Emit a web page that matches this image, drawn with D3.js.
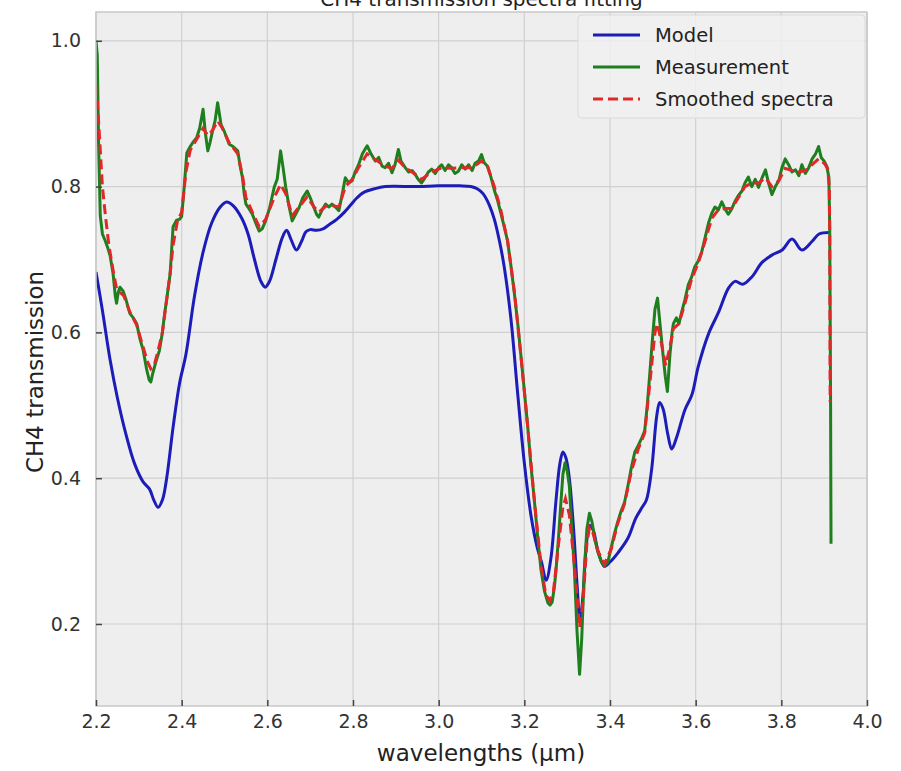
<!DOCTYPE html>
<html><head><meta charset="utf-8">
<script src="https://cdn.jsdelivr.net/npm/d3@7"></script>
<style>
body{margin:0;background:#fff}
svg{display:block}
text{font-family:"DejaVu Sans",sans-serif}
</style>
</head><body>
<svg id="chart" width="901" height="771"></svg>
<script>
const chartTitle = "CH4 transmission spectra fitting";
const xLabel = "wavelengths (\u00b5m)";
const yLabel = "CH4 transmission";
const xTicks = [2.2,2.4,2.6,2.8,3.0,3.2,3.4,3.6,3.8,4.0];
const yTicks = [0.2,0.4,0.6,0.8,1.0];
const seriesNames = ["Model","Measurement","Smoothed spectra"];

const modelData = [
[2.200,0.683],[2.215,0.63],[2.233,0.562],[2.25,0.51],[2.27,0.46],[2.29,0.42],[2.31,0.395],[2.325,0.385],
[2.335,0.37],[2.345,0.36],[2.355,0.37],[2.365,0.40],[2.38,0.47],[2.395,0.53],[2.41,0.57],[2.43,0.65],
[2.45,0.71],[2.47,0.75],[2.49,0.772],[2.505,0.779],[2.52,0.774],[2.54,0.757],[2.555,0.735],[2.57,0.70],
[2.585,0.67],[2.595,0.662],[2.605,0.67],[2.62,0.70],[2.635,0.73],[2.645,0.74],[2.655,0.728],[2.668,0.713],
[2.68,0.725],[2.69,0.738],[2.70,0.741],[2.715,0.74],[2.73,0.742],[2.745,0.748],[2.762,0.755],[2.78,0.765],
[2.795,0.775],[2.81,0.785],[2.825,0.792],[2.85,0.797],[2.875,0.80],[2.95,0.80],[3.00,0.801],[3.05,0.801],
[3.075,0.80],[3.09,0.797],[3.104,0.79],[3.118,0.775],[3.13,0.755],[3.142,0.725],[3.153,0.69],[3.169,0.617],
[3.184,0.519],[3.20,0.421],[3.216,0.347],[3.23,0.305],[3.24,0.285],[3.251,0.26],[3.262,0.29],[3.274,0.37],
[3.283,0.42],[3.29,0.436],[3.297,0.428],[3.305,0.40],[3.315,0.33],[3.323,0.255],[3.33,0.205],[3.337,0.24],
[3.345,0.31],[3.352,0.335],[3.36,0.33],[3.372,0.30],[3.387,0.279],[3.40,0.285],[3.419,0.298],[3.442,0.318],
[3.46,0.345],[3.475,0.36],[3.485,0.37],[3.497,0.411],[3.509,0.485],[3.516,0.504],[3.524,0.495],[3.535,0.46],
[3.544,0.44],[3.555,0.455],[3.575,0.494],[3.591,0.514],[3.606,0.553],[3.63,0.598],[3.653,0.627],[3.677,0.661],
[3.692,0.67],[3.71,0.666],[3.731,0.676],[3.755,0.696],[3.778,0.706],[3.802,0.713],[3.825,0.728],[3.848,0.713],
[3.872,0.725],[3.888,0.735],[3.912,0.737]
];

const measurementData = [
[2.200,1.000],[2.203,0.98],[2.206,0.86],[2.210,0.76],[2.215,0.735],[2.222,0.725],[2.228,0.715],[2.233,0.705],
[2.240,0.68],[2.245,0.65],[2.248,0.64],[2.252,0.655],[2.256,0.662],[2.263,0.657],[2.270,0.645],[2.279,0.626],
[2.287,0.62],[2.295,0.612],[2.303,0.59],[2.310,0.576],[2.318,0.55],[2.324,0.535],[2.328,0.532],[2.333,0.545],
[2.340,0.56],[2.348,0.575],[2.355,0.60],[2.360,0.625],[2.365,0.645],[2.373,0.68],[2.380,0.745],[2.388,0.754],
[2.395,0.755],[2.400,0.759],[2.406,0.80],[2.412,0.846],[2.420,0.855],[2.428,0.862],[2.435,0.867],[2.442,0.88],
[2.450,0.906],[2.455,0.875],[2.461,0.849],[2.466,0.86],[2.472,0.876],[2.478,0.89],[2.484,0.915],[2.488,0.9],
[2.492,0.885],[2.500,0.875],[2.511,0.858],[2.520,0.855],[2.531,0.849],[2.536,0.83],[2.542,0.812],[2.546,0.79],
[2.550,0.776],[2.557,0.77],[2.565,0.762],[2.573,0.75],[2.581,0.739],[2.588,0.742],[2.596,0.753],[2.605,0.77],
[2.616,0.799],[2.623,0.81],[2.631,0.849],[2.637,0.825],[2.643,0.799],[2.650,0.775],[2.658,0.753],[2.666,0.762],
[2.674,0.771],[2.683,0.785],[2.693,0.794],[2.700,0.785],[2.709,0.771],[2.715,0.762],[2.720,0.758],[2.728,0.768],
[2.736,0.776],[2.744,0.772],[2.751,0.776],[2.759,0.772],[2.767,0.767],[2.775,0.79],[2.782,0.812],[2.790,0.805],
[2.798,0.808],[2.805,0.82],[2.813,0.83],[2.822,0.845],[2.833,0.856],[2.842,0.845],[2.852,0.835],[2.860,0.84],
[2.868,0.828],[2.875,0.826],[2.883,0.832],[2.891,0.819],[2.898,0.83],[2.906,0.851],[2.912,0.835],[2.922,0.826],
[2.930,0.82],[2.938,0.822],[2.945,0.817],[2.952,0.81],[2.960,0.805],[2.968,0.812],[2.976,0.82],[2.984,0.824],
[2.992,0.818],[3.000,0.826],[3.007,0.83],[3.015,0.822],[3.023,0.83],[3.030,0.826],[3.038,0.818],[3.046,0.821],
[3.054,0.83],[3.062,0.824],[3.070,0.83],[3.078,0.822],[3.085,0.832],[3.093,0.835],[3.100,0.844],[3.106,0.833],
[3.114,0.828],[3.122,0.813],[3.130,0.795],[3.138,0.78],[3.145,0.764],[3.153,0.745],[3.161,0.725],[3.169,0.69],
[3.177,0.652],[3.185,0.61],[3.192,0.568],[3.200,0.52],[3.208,0.47],[3.215,0.42],[3.223,0.372],[3.231,0.32],
[3.239,0.274],[3.247,0.245],[3.255,0.229],[3.260,0.226],[3.265,0.23],[3.270,0.25],[3.274,0.274],[3.280,0.32],
[3.286,0.372],[3.290,0.405],[3.295,0.421],[3.300,0.41],[3.305,0.39],[3.311,0.33],[3.317,0.274],[3.323,0.19],
[3.329,0.131],[3.334,0.18],[3.340,0.274],[3.346,0.33],[3.352,0.352],[3.358,0.34],[3.365,0.315],[3.372,0.298],
[3.380,0.285],[3.387,0.279],[3.395,0.285],[3.403,0.305],[3.410,0.323],[3.418,0.34],[3.426,0.355],[3.434,0.367],
[3.442,0.39],[3.450,0.415],[3.458,0.436],[3.466,0.445],[3.474,0.455],[3.481,0.465],[3.487,0.5],[3.493,0.544],
[3.499,0.59],[3.505,0.632],[3.511,0.647],[3.517,0.61],[3.524,0.568],[3.529,0.54],[3.534,0.519],[3.540,0.57],
[3.545,0.6],[3.548,0.612],[3.555,0.62],[3.561,0.612],[3.567,0.627],[3.575,0.645],[3.583,0.666],[3.590,0.675],
[3.598,0.69],[3.606,0.698],[3.614,0.71],[3.622,0.73],[3.630,0.75],[3.638,0.764],[3.645,0.772],[3.653,0.768],
[3.661,0.779],[3.668,0.77],[3.676,0.762],[3.684,0.769],[3.692,0.78],[3.700,0.788],[3.708,0.794],[3.715,0.805],
[3.723,0.813],[3.731,0.8],[3.739,0.81],[3.747,0.799],[3.755,0.812],[3.763,0.823],[3.770,0.805],[3.778,0.789],
[3.786,0.8],[3.794,0.808],[3.801,0.825],[3.809,0.838],[3.817,0.83],[3.825,0.82],[3.833,0.823],[3.841,0.815],
[3.848,0.83],[3.856,0.818],[3.864,0.826],[3.872,0.838],[3.880,0.845],[3.887,0.855],[3.893,0.84],[3.900,0.835],
[3.906,0.828],[3.911,0.813],[3.913,0.74],[3.915,0.5],[3.916,0.31]
];

const smoothedData = [
[2.200,0.94],[2.205,0.90],[2.210,0.85],[2.215,0.80],[2.222,0.76],[2.230,0.72],[2.240,0.685],[2.248,0.66],
[2.256,0.655],[2.265,0.65],[2.279,0.628],[2.295,0.61],[2.310,0.58],[2.320,0.56],[2.328,0.55],[2.336,0.555],
[2.345,0.575],[2.355,0.60],[2.365,0.645],[2.373,0.68],[2.380,0.72],[2.390,0.752],[2.400,0.765],[2.410,0.82],
[2.420,0.85],[2.435,0.865],[2.450,0.88],[2.461,0.87],[2.472,0.877],[2.484,0.89],[2.495,0.88],[2.511,0.86],
[2.531,0.845],[2.542,0.815],[2.550,0.785],[2.565,0.765],[2.581,0.745],[2.596,0.755],[2.616,0.785],[2.631,0.803],
[2.643,0.79],[2.658,0.76],[2.674,0.772],[2.693,0.786],[2.709,0.772],[2.720,0.765],[2.736,0.773],[2.751,0.774],
[2.767,0.772],[2.782,0.8],[2.798,0.81],[2.813,0.826],[2.833,0.845],[2.852,0.837],[2.875,0.828],[2.891,0.825],
[2.906,0.836],[2.922,0.826],[2.945,0.817],[2.960,0.81],[2.984,0.82],[3.007,0.826],[3.030,0.825],[3.054,0.826],
[3.078,0.826],[3.100,0.835],[3.114,0.828],[3.130,0.8],[3.145,0.768],[3.161,0.725],[3.177,0.655],[3.192,0.568],
[3.208,0.47],[3.223,0.372],[3.239,0.28],[3.250,0.24],[3.260,0.232],[3.268,0.245],[3.280,0.31],[3.290,0.36],
[3.296,0.372],[3.305,0.35],[3.317,0.28],[3.329,0.195],[3.337,0.23],[3.346,0.31],[3.352,0.332],[3.360,0.325],
[3.372,0.3],[3.387,0.282],[3.403,0.303],[3.418,0.338],[3.434,0.365],[3.450,0.41],[3.466,0.44],[3.481,0.462],
[3.493,0.53],[3.505,0.6],[3.511,0.612],[3.520,0.585],[3.530,0.555],[3.540,0.58],[3.548,0.605],[3.561,0.612],
[3.575,0.64],[3.590,0.672],[3.606,0.695],[3.622,0.725],[3.638,0.757],[3.653,0.768],[3.668,0.77],[3.684,0.77],
[3.700,0.785],[3.715,0.8],[3.731,0.805],[3.747,0.805],[3.763,0.812],[3.778,0.8],[3.794,0.808],[3.809,0.825],
[3.825,0.822],[3.841,0.82],[3.856,0.822],[3.872,0.83],[3.887,0.838],[3.900,0.832],[3.908,0.825],[3.912,0.8],
[3.913,0.74],[3.914,0.505]
];

const colors = {"Model":"#1c1cb8","Measurement":"#1e7f1e","Smoothed spectra":"#e02828"};

const svg = d3.select("#chart");
const W = 901, H = 771;
const m = {left:96, right:W-867, top:12, bottom:H-706};
const iw = W - m.left - m.right, ih = H - m.top - m.bottom;

const x = d3.scaleLinear().domain([2.2,4.0]).range([0,iw]);
const y = d3.scaleLinear().domain([0.0875,1.0395]).range([ih,0]);

svg.append("text").attr("x", m.left+iw/2).attr("y", 6).attr("text-anchor","middle")
  .attr("font-size",20).attr("fill","#222").text(chartTitle);

const g = svg.append("g").attr("transform",`translate(${m.left},${m.top})`);
g.append("rect").attr("width",iw).attr("height",ih).attr("fill","#eeeeee");

// grid
g.append("g").selectAll("line").data(xTicks).join("line")
  .attr("x1",d=>x(d)).attr("x2",d=>x(d)).attr("y1",0).attr("y2",ih)
  .attr("stroke","#d0d0d0").attr("stroke-width",1.2);
g.append("g").selectAll("line").data(yTicks).join("line")
  .attr("y1",d=>y(d)).attr("y2",d=>y(d)).attr("x1",0).attr("x2",iw)
  .attr("stroke","#d0d0d0").attr("stroke-width",1.2);

svg.append("defs").append("clipPath").attr("id","clip").append("rect").attr("width",iw).attr("height",ih);

const line = d3.line().x(d=>x(d[0])).y(d=>y(d[1]));
const lines = g.append("g").attr("clip-path","url(#clip)");
lines.append("path").datum(modelData).attr("fill","none").attr("stroke",colors["Model"])
  .attr("stroke-width",3).attr("stroke-linejoin","round")
  .attr("d", d3.line().x(d=>x(d[0])).y(d=>y(d[1])).curve(d3.curveCatmullRom.alpha(0.5)));
lines.append("path").datum(measurementData).attr("fill","none").attr("stroke",colors["Measurement"])
  .attr("stroke-width",3).attr("stroke-linejoin","round").attr("d",line);
lines.append("path").datum(smoothedData).attr("fill","none").attr("stroke",colors["Smoothed spectra"])
  .attr("stroke-width",3).attr("stroke-dasharray","10,5").attr("d",line);

// frame
g.append("rect").attr("width",iw).attr("height",ih).attr("fill","none").attr("stroke","#c8c8c8").attr("stroke-width",1.5);

// axes
const xAxis = d3.axisBottom(x).tickValues(xTicks).tickFormat(d3.format(".1f")).tickSizeInner(-6).tickSizeOuter(0).tickPadding(9);
const yAxis = d3.axisLeft(y).tickValues(yTicks).tickFormat(d3.format(".1f")).tickSizeInner(-6).tickSizeOuter(0).tickPadding(15);
const gx = g.append("g").attr("transform",`translate(0,${ih})`).call(xAxis);
const gy = g.append("g").call(yAxis);
[gx,gy].forEach(a=>{
  a.select(".domain").remove();
  a.selectAll(".tick line").attr("stroke","#444").attr("stroke-width",1.5);
  a.selectAll(".tick text").attr("font-size",19).attr("fill","#333").attr("font-family","DejaVu Sans");
});

svg.append("text").attr("x", 481).attr("y", 761).attr("text-anchor","middle")
  .attr("font-size",23).attr("fill","#222").text(xLabel);
svg.append("text").attr("transform",`translate(43,${m.top+ih/2+13}) rotate(-90)`).attr("text-anchor","middle")
  .attr("font-size",23).attr("fill","#222").text(yLabel);

// legend
const lg = svg.append("g").attr("transform","translate(578,15)");
lg.append("rect").attr("width",287).attr("height",103).attr("rx",4)
  .attr("fill","#f0f0f0").attr("fill-opacity",0.85).attr("stroke","#dadada");
seriesNames.forEach((n,i)=>{
  const yy = 20 + i*32;
  lg.append("line").attr("x1",15).attr("x2",62).attr("y1",yy).attr("y2",yy)
    .attr("stroke",colors[n]).attr("stroke-width",3)
    .attr("stroke-dasharray", n==="Smoothed spectra" ? "10,5" : null);
  lg.append("text").attr("x",77).attr("y",yy).attr("dy","0.35em").attr("font-size",19.5).attr("fill","#222").text(n);
});
</script>
</body></html>
